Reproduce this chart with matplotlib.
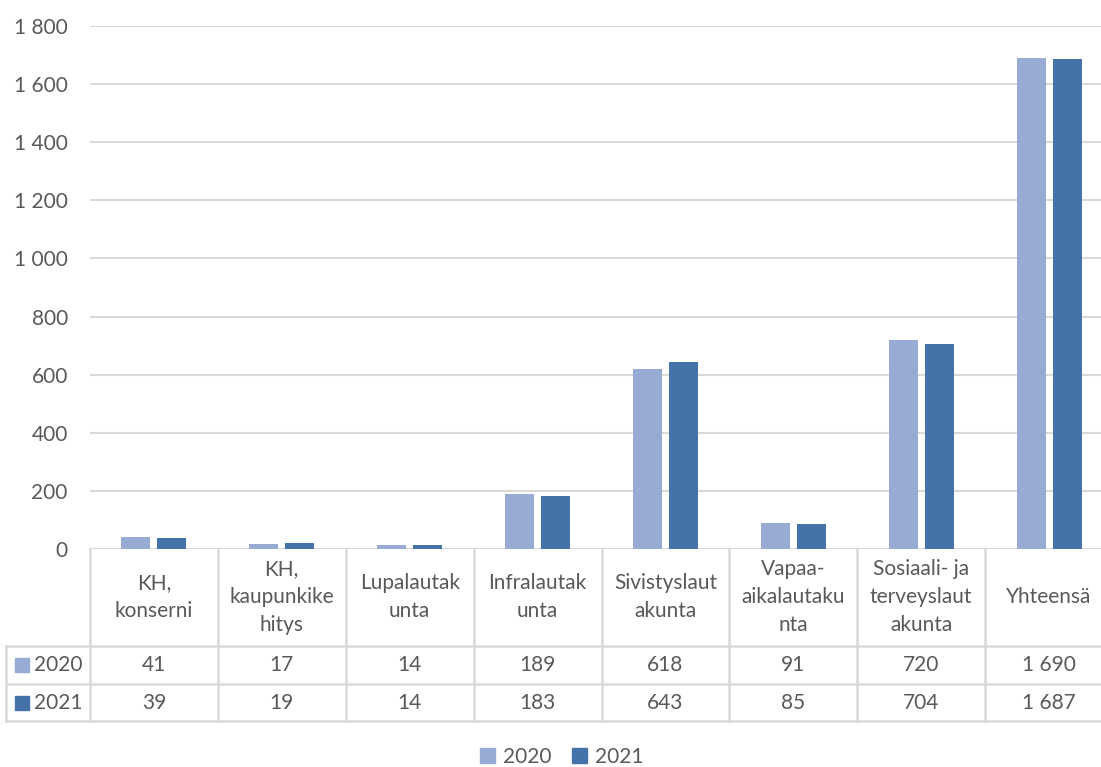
import matplotlib
matplotlib.use("Agg")
import matplotlib.pyplot as plt
import matplotlib.transforms as mtransforms
from matplotlib.patches import Patch
import numpy as np

plt.rcParams['font.family'] = ['Lato', 'DejaVu Sans']

# data
categories = ["KH,\nkonserni", "KH,\nkaupunkike\nhitys", "Lupalautak\nunta",
              "Infralautak\nunta", "Sivistyslaut\nakunta", "Vapaa-\naikalautaku\nnta",
              "Sosiaali- ja\nterveyslaut\nakunta", "Yhteensä"]
series_names = ["2020", "2021"]
values_2020 = [41, 17, 14, 189, 618, 91, 720, 1690]
values_2021 = [39, 19, 14, 183, 643, 85, 704, 1687]
yticks = [0, 200, 400, 600, 800, 1000, 1200, 1400, 1600, 1800]

col_2020 = "#97abd4"
col_2021 = "#4472a9"
text_col = "#595959"
grid_col = "#d9d9d9"
fs = 15

W, H = 1101, 767
fig = plt.figure(figsize=(W / 100, H / 100), dpi=100)
# plot area in pixels: x 90..1113, y 26..549
ax = fig.add_axes([90 / W, (H - 549) / H, (1113 - 90) / W, (549 - 26) / H])

x = np.arange(len(categories))
bw = 0.227
off = 0.141
ax.bar(x - off, values_2020, width=bw, color=col_2020, zorder=3)
ax.bar(x + off, values_2021, width=bw, color=col_2021, zorder=3)

ax.set_xlim(-0.5, len(categories) - 0.5)
ax.set_ylim(0, 1800)
ax.set_yticks(yticks)
ax.set_yticklabels([f"{v:,}".replace(",", " ") for v in yticks])
ax.tick_params(axis='y', length=0, pad=16, labelsize=fs, labelcolor=text_col)
ax.set_xticks([])
for s in ax.spines.values():
    s.set_visible(False)
ax.yaxis.grid(True, color=grid_col, linewidth=1.5, zorder=0)

# data table under the plot
tr = mtransforms.blended_transform_factory(ax.transData, ax.transAxes)
px = 1.0 / 523            # one pixel in axes fraction (vertical)
cat_w = 1023 / 8          # pixels per category
y_head = -97 * px
y_r1 = -135 * px
y_r2 = -172 * px
x_left = -0.5 - 84 / cat_w
lkw = dict(color=grid_col, linewidth=1.8, transform=tr, clip_on=False, zorder=1)

for b in np.arange(len(categories) + 1) - 0.5:
    ax.plot([b, b], [0, y_r2], **lkw)
for yy in (y_head, y_r1, y_r2):
    ax.plot([x_left, len(categories) - 0.5], [yy, yy], **lkw)
ax.plot([x_left, x_left], [y_head, y_r2], **lkw)

for i, name in enumerate(categories):
    ax.text(i, -48 * px, name, ha='center', va='center', fontsize=fs,
            color=text_col, transform=tr, linespacing=1.5)

rows = [(series_names[0], values_2020, col_2020, -116 * px),
        (series_names[1], values_2021, col_2021, -154 * px)]
for name, vals, col, yy in rows:
    ax.plot([x_left + 15.5 / cat_w], [yy], marker='s', markersize=9.5, color=col,
            transform=tr, clip_on=False, linestyle='none')
    ax.text(x_left + 28 / cat_w, yy, name, ha='left', va='center', fontsize=fs,
            color=text_col, transform=tr)
    for i, v in enumerate(vals):
        ax.text(i, yy, f"{v:,}".replace(",", " "), ha='center', va='center',
                fontsize=fs, color=text_col, transform=tr)

handles = [Patch(color=col_2020, label=series_names[0]),
           Patch(color=col_2021, label=series_names[1])]
fig.legend(handles=handles, loc='center', bbox_to_anchor=(562 / W, (H - 757) / H),
           ncol=2, frameon=False, fontsize=fs, labelcolor=text_col,
           handlelength=0.7, handleheight=0.7, handletextpad=0.4, columnspacing=1.0)

fig.savefig("out.png", dpi=100)
